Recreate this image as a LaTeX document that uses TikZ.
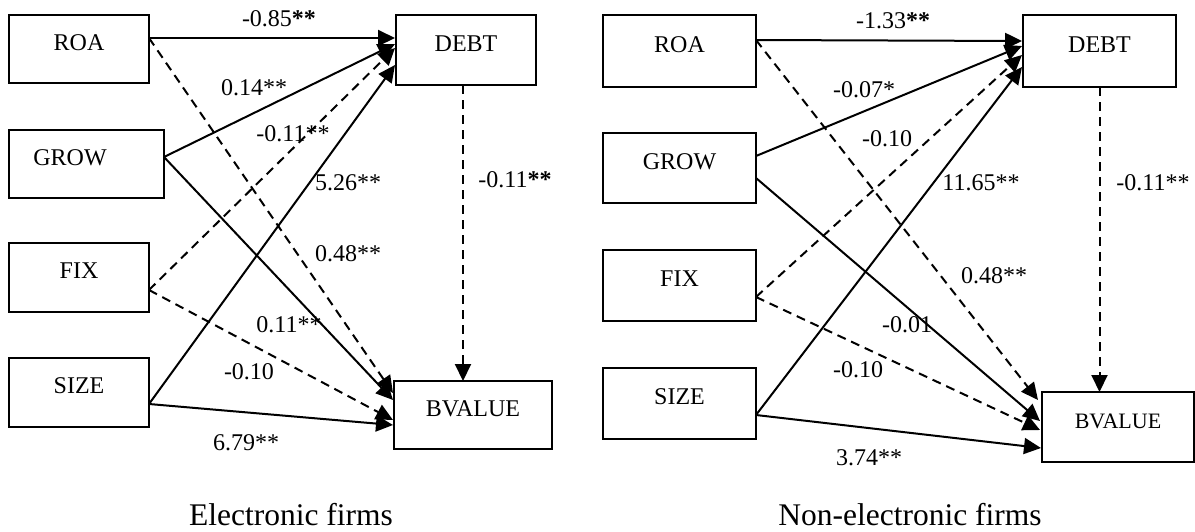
\documentclass[tikz,border=0pt]{standalone}
\usepackage{fontspec}
\setmainfont{Liberation Serif}
\usetikzlibrary{arrows.meta, calc}
\newcommand{\coefsize}{\fontsize{24}{28}\selectfont}
\newcommand{\capsize}{\fontsize{31.5}{36}\selectfont}
\tikzset{
  box/.style={draw, line width=1.5pt, inner sep=0pt, outer sep=0pt, minimum height=68pt,
    text height=16pt, text depth=14pt, font=\coefsize},
  coef/.style={inner sep=0pt, font=\coefsize},
  pathS/.style={line width=2pt, -{Triangle[length=17pt,width=16pt]}},
  pathD/.style={pathS, dash pattern=on 9pt off 6pt},
}
\begin{document}
\begin{tikzpicture}[x=1pt,y=-1pt]
\useasboundingbox (0,0) rectangle (1195,531);

% Electronic firms
\node[box, minimum width=140pt] (roaL) at (79,49) {ROA};
\node[box, minimum width=155pt] (growL) at (86.5,164) {GROW\hspace*{33pt}};
\node[box, minimum width=140pt, minimum height=69pt] (fixL) at (79,277.5) {FIX};
\node[box, minimum width=140pt, minimum height=69pt] (sizeL) at (79,392.5) {SIZE};
\node[box, minimum width=140pt, minimum height=70pt] (debtL) at (466,50) {DEBT};
\node[box, minimum width=158pt] (bvalL) at (473,415) {BVALUE};

\draw[pathS] ($(roaL.north east)+(0,23)$) -- ($(debtL.north west)+(-1,23)$);
\draw[pathS] ($(growL.north east)+(0,27)$) -- ($(debtL.north west)+(-1,29)$);
\draw[pathD] ($(fixL.north east)+(0,47)$) -- ($(debtL.north west)+(-1,33)$);
\draw[pathS] ($(sizeL.north east)+(0,46)$) -- ($(debtL.north west)+(-1,50)$);
\draw[pathD] ($(roaL.north east)+(0,23)$) -- ($(bvalL.north west)+(-1,12)$);
\draw[pathS] ($(growL.north east)+(0,27)$) -- ($(bvalL.north west)+(-1,19)$);
\draw[pathD] ($(fixL.north east)+(0,47)$) -- ($(bvalL.north west)+(-1,39)$);
\draw[pathS] ($(sizeL.north east)+(0,46)$) -- ($(bvalL.north west)+(-1,44)$);
\draw[pathD] ([xshift=-3pt]debtL.south) -- ([xshift=-3pt]debtL.south |- bvalL.north);

\node[coef] (cRoaDebtL) at (279,19) {-0.85\textbf{**}};
\node[coef] (cGrowDebtL) at (254,88) {0.14**};
\node[coef] (cFixDebtL) at (293,134) {-0.11**};
\node[coef] (cSizeDebtL) at (348,183) {5.26**};
\node[coef] (cRoaBvalL) at (348,254) {0.48**};
\node[coef] (cGrowBvalL) at (289,325) {0.11**};
\node[coef] (cFixBvalL) at (249,372) {-0.10};
\node[coef] (cSizeBvalL) at (246,443) {6.79**};
\node[coef] (cDebtBvalL) at (515,180) {-0.11\textbf{**}};
\node[anchor=base, inner sep=0pt, font=\capsize] (capL) at (291,525.5) {Electronic firms};

% Non-electronic firms
\node[box, minimum width=153pt, minimum height=72pt] (roaR) at (679.5,51) {ROA};
\node[box, minimum width=153pt, minimum height=70pt] (growR) at (679.5,168) {GROW};
\node[box, minimum width=153pt, minimum height=71pt] (fixR) at (679.5,285.5) {FIX};
\node[box, minimum width=153pt, minimum height=71pt] (sizeR) at (679.5,403.5) {SIZE};
\node[box, minimum width=153pt, minimum height=72pt] (debtR) at (1099.5,51) {DEBT};
\node[box, minimum width=152pt, minimum height=70pt, font=\fontsize{22}{26}\selectfont] (bvalR) at (1118,427) {BVALUE};

\draw[pathS] ($(roaR.north east)+(0,25)$) -- ($(debtR.north west)+(-1,26)$);
\draw[pathS] ($(growR.north east)+(0,23)$) -- ($(debtR.north west)+(-1,31)$);
\draw[pathD] ($(fixR.north east)+(0,47)$) -- ($(debtR.north west)+(-1,40)$);
\draw[pathS] ($(sizeR.north east)+(0,47)$) -- ($(debtR.north west)+(-1,52)$);
\draw[pathD] ($(roaR.north east)+(0,25)$) -- ($(bvalR.north west)+(-4,8)$);
\draw[pathS] ($(growR.north east)+(0,45)$) -- ($(bvalR.north west)+(-2,29)$);
\draw[pathD] ($(fixR.north east)+(0,47)$) -- ($(bvalR.north west)+(-2,38)$);
\draw[pathS] ($(sizeR.north east)+(0,47)$) -- ($(bvalR.north west)+(-1,56)$);
\draw[pathD] (debtR.south) -- (debtR.south |- bvalR.north);

\node[coef] (cRoaDebtR) at (893,21) {-1.33\textbf{**}};
\node[coef] (cGrowDebtR) at (864,90) {-0.07*};
\node[coef] (cFixDebtR) at (887,139) {-0.10};
\node[coef] (cSizeDebtR) at (981,183) {11.65**};
\node[coef] (cRoaBvalR) at (994,276) {0.48**};
\node[coef] (cGrowBvalR) at (907,325) {-0.01};
\node[coef] (cFixBvalR) at (858,370) {-0.10};
\node[coef] (cSizeBvalR) at (869,458) {3.74**};
\node[coef] (cDebtBvalR) at (1153,183) {-0.11**};
\node[anchor=base, inner sep=0pt, font=\capsize] (capR) at (910,525.5) {Non-electronic firms};
\end{tikzpicture}
\end{document}
